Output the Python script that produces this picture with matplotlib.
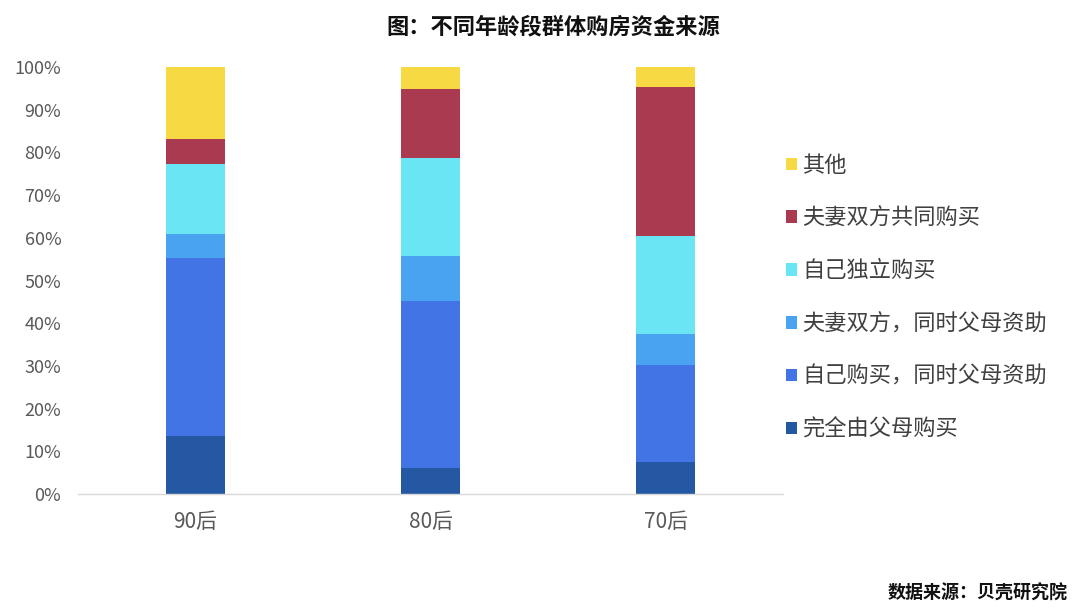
#!/usr/bin/env python
# -*- coding: utf-8 -*-

import matplotlib
matplotlib.use("Agg")
import matplotlib.pyplot as plt
import numpy as np
from matplotlib.ticker import PercentFormatter

plt.rcParams['font.family'] = ['Noto Sans CJK SC', 'DejaVu Sans']

# datos (en %)
grupos_edad = ["90后", "80后", "70后"]
series = ["完全由父母购买", "自己购买，同时父母资助", "夫妻双方，同时父母资助",
          "自己独立购买", "夫妻双方共同购买", "其他"]
padres = [13.5, 6.2, 7.4]
propio_ayuda = [41.8, 39.1, 22.8]
pareja_ayuda = [5.6, 10.4, 7.2]
propio_solo = [16.3, 23.0, 23.0]
pareja_sola = [5.9, 16.2, 34.8]
otros = [16.9, 5.1, 4.8]
colores = ["#2558A2", "#4274E6", "#4AA3F0", "#69E5F4", "#AA3A50", "#F6D943"]

valores = [padres, propio_ayuda, pareja_ayuda, propio_solo, pareja_sola, otros]

fig = plt.figure(figsize=(10.8, 6.08), dpi=100)
ax = fig.add_axes([0.0722, 0.1875, 0.653, 0.7023])

x = np.arange(len(grupos_edad))
base = np.zeros(len(grupos_edad))
barras = []
for nombre, vals, color in zip(series, valores, colores):
    vals = np.array(vals) / 100.0
    b = ax.bar(x, vals, 0.25, bottom=base, color=color, label=nombre, linewidth=0)
    barras.append(b)
    base += vals

ax.set_xlim(-0.5, 2.5)
ax.set_ylim(0, 1.0)
ax.set_yticks(np.arange(0, 1.01, 0.1))
ax.yaxis.set_major_formatter(PercentFormatter(1.0, decimals=0))
ax.set_xticks(x)
ax.set_xticklabels(grupos_edad, fontsize=15, color="#595959")
ax.tick_params(axis="y", labelsize=13, labelcolor="#595959", length=0, pad=12)
ax.tick_params(axis="x", length=0, pad=12)

for lado in ["top", "right", "left"]:
    ax.spines[lado].set_visible(False)
ax.spines["bottom"].set_color("#D9D9D9")
ax.spines["bottom"].set_linewidth(1.0)

fig.text(0.512, 0.955, "图：不同年龄段群体购房资金来源", ha="center", va="center",
         fontsize=16, fontweight="bold", color="#111111")
fig.text(0.989, 0.024, "数据来源：贝壳研究院", ha="right", va="center",
         fontsize=13, fontweight="bold", color="#111111")

ley = fig.legend(barras[::-1], series[::-1], loc="center left",
                 bbox_to_anchor=(0.709, 0.511), frameon=False, fontsize=16,
                 handlelength=0.5, handleheight=0.5, handletextpad=0.25,
                 labelspacing=1.34, labelcolor="#404040")

fig.savefig("out.png", dpi=100)
